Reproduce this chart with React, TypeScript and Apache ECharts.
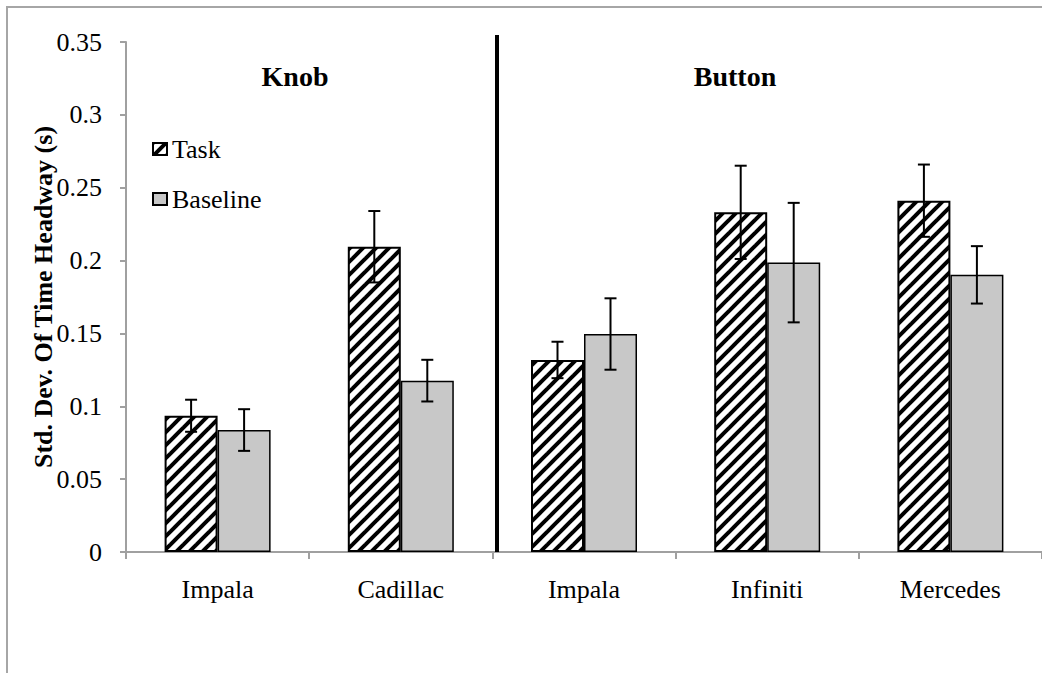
import React, { useEffect, useRef } from "react";
import * as echarts from "echarts";

const categories = ["Impala", "Cadillac", "Impala", "Infiniti", "Mercedes"];
const groupLabels = ["Knob", "Button"];
const seriesNames = ["Task", "Baseline"];
const taskValues = [0.0935, 0.2095, 0.1318, 0.2331, 0.2411];
const taskErrors = [0.011, 0.0245, 0.0125, 0.032, 0.0248];
const baselineValues = [0.0837, 0.1176, 0.1496, 0.1986, 0.1902];
const baselineErrors = [0.0143, 0.0143, 0.0245, 0.041, 0.0197];
const yTickLabels = ["0", "0.05", "0.1", "0.15", "0.2", "0.25", "0.3", "0.35"];
const yAxisTitle = "Std. Dev. Of Time Headway (s)";

const FONT = "Liberation Serif";
const BAR_W = 53;

function makeHatch(): HTMLCanvasElement {
  const p = 13;
  const c = document.createElement("canvas");
  c.width = p;
  c.height = p;
  const ctx = c.getContext("2d")!;
  ctx.fillStyle = "#ffffff";
  ctx.fillRect(0, 0, p, p);
  ctx.strokeStyle = "#000000";
  ctx.lineWidth = 4;
  for (const off of [-p, 0, p]) {
    ctx.beginPath();
    ctx.moveTo(off - 2, p + 2);
    ctx.lineTo(off + p + 2, -2);
    ctx.stroke();
  }
  return c;
}

function errorSeries(name: string, values: number[], errors: number[], offset: number) {
  return {
    name,
    type: "custom",
    z: 5,
    data: values.map((v, i) => [i, v, errors[i]]),
    encode: { x: 0, y: 1 },
    renderItem: (_params: any, api: any) => {
      const i = api.value(0);
      const v = api.value(1);
      const e = api.value(2);
      const top = api.coord([i, v + e]);
      const bot = api.coord([i, v - e]);
      const x = top[0] + offset;
      const cap = 6;
      const st = { stroke: "#000", lineWidth: 2 };
      return {
        type: "group",
        children: [
          { type: "line", shape: { x1: x, y1: top[1], x2: x, y2: bot[1] }, style: st },
          { type: "line", shape: { x1: x - cap, y1: top[1], x2: x + cap, y2: top[1] }, style: st },
          { type: "line", shape: { x1: x - cap, y1: bot[1], x2: x + cap, y2: bot[1] }, style: st },
        ],
      };
    },
  };
}

export default function App() {
  const ref = useRef<HTMLDivElement>(null);
  useEffect(() => {
    if (!ref.current) return;
    const chart = echarts.init(ref.current, undefined, { renderer: "svg" });
    const hatch = makeHatch();
    const txt = (text: string, x: number, y: number, size: number, extra: any = {}) => ({
      type: "text",
      x,
      y,
      ...extra,
      style: {
        text,
        fontFamily: FONT,
        fontWeight: "bold",
        fontSize: size,
        fill: "#000",
        align: "center",
        verticalAlign: "middle",
      },
    });
    chart.setOption({
      animation: false,
      backgroundColor: "#ffffff",
      textStyle: { fontFamily: FONT },
      grid: { left: 126, top: 42, width: 920, height: 510 },
      legend: {
        data: seriesNames,
        orient: "vertical",
        left: 147,
        top: 131,
        itemWidth: 14,
        itemHeight: 12,
        itemGap: 24,
        icon: "rect",
        textStyle: { fontFamily: FONT, fontSize: 26, color: "#000" },
      },
      xAxis: {
        type: "category",
        data: categories,
        axisLine: { lineStyle: { color: "#a0a0a0", width: 2 } },
        axisTick: { show: true, length: 7, lineStyle: { color: "#a0a0a0", width: 2 } },
        axisLabel: { fontFamily: FONT, fontSize: 26, color: "#000", margin: 24 },
      },
      yAxis: {
        type: "value",
        min: 0,
        max: 0.35,
        interval: 0.05,
        axisLine: { show: true, lineStyle: { color: "#a0a0a0", width: 2 } },
        axisTick: { show: true, length: 6, lineStyle: { color: "#a0a0a0", width: 2 } },
        splitLine: { show: false },
        axisLabel: {
          fontFamily: FONT,
          fontSize: 26,
          color: "#000",
          margin: 24,
          formatter: (_v: number, idx: number) => yTickLabels[idx],
        },
      },
      graphic: [
        {
          type: "rect",
          shape: { x: 7, y: 7, width: 1200, height: 800 },
          style: { fill: "none", stroke: "#a6a6a6", lineWidth: 2 },
          silent: true,
        },
        {
          type: "line",
          shape: { x1: 497, y1: 35, x2: 497, y2: 552 },
          style: { stroke: "#000", lineWidth: 4 },
          z: 10,
        },
        txt(groupLabels[0], 295, 76, 28),
        txt(groupLabels[1], 735, 76, 28),
        txt(yAxisTitle, 43, 297, 26, { rotation: Math.PI / 2 }),
      ],
      series: [
        {
          name: seriesNames[0],
          type: "bar",
          barWidth: BAR_W,
          barGap: "0%",
          data: taskValues,
          itemStyle: { color: { image: hatch, repeat: "repeat" }, borderColor: "#000", borderWidth: 2 },
        },
        {
          name: seriesNames[1],
          type: "bar",
          barWidth: BAR_W,
          barGap: "0%",
          data: baselineValues,
          itemStyle: { color: "#c8c8c8", borderColor: "#000", borderWidth: 1.5 },
        },
        errorSeries("Task error", taskValues, taskErrors, -BAR_W / 2),
        errorSeries("Baseline error", baselineValues, baselineErrors, BAR_W / 2),
      ],
    });
    return () => chart.dispose();
  }, []);
  return (
    <div
      ref={ref}
      style={{ position: "fixed", left: 0, top: 0, width: 1042, height: 673, background: "#fff" }}
    />
  );
}
